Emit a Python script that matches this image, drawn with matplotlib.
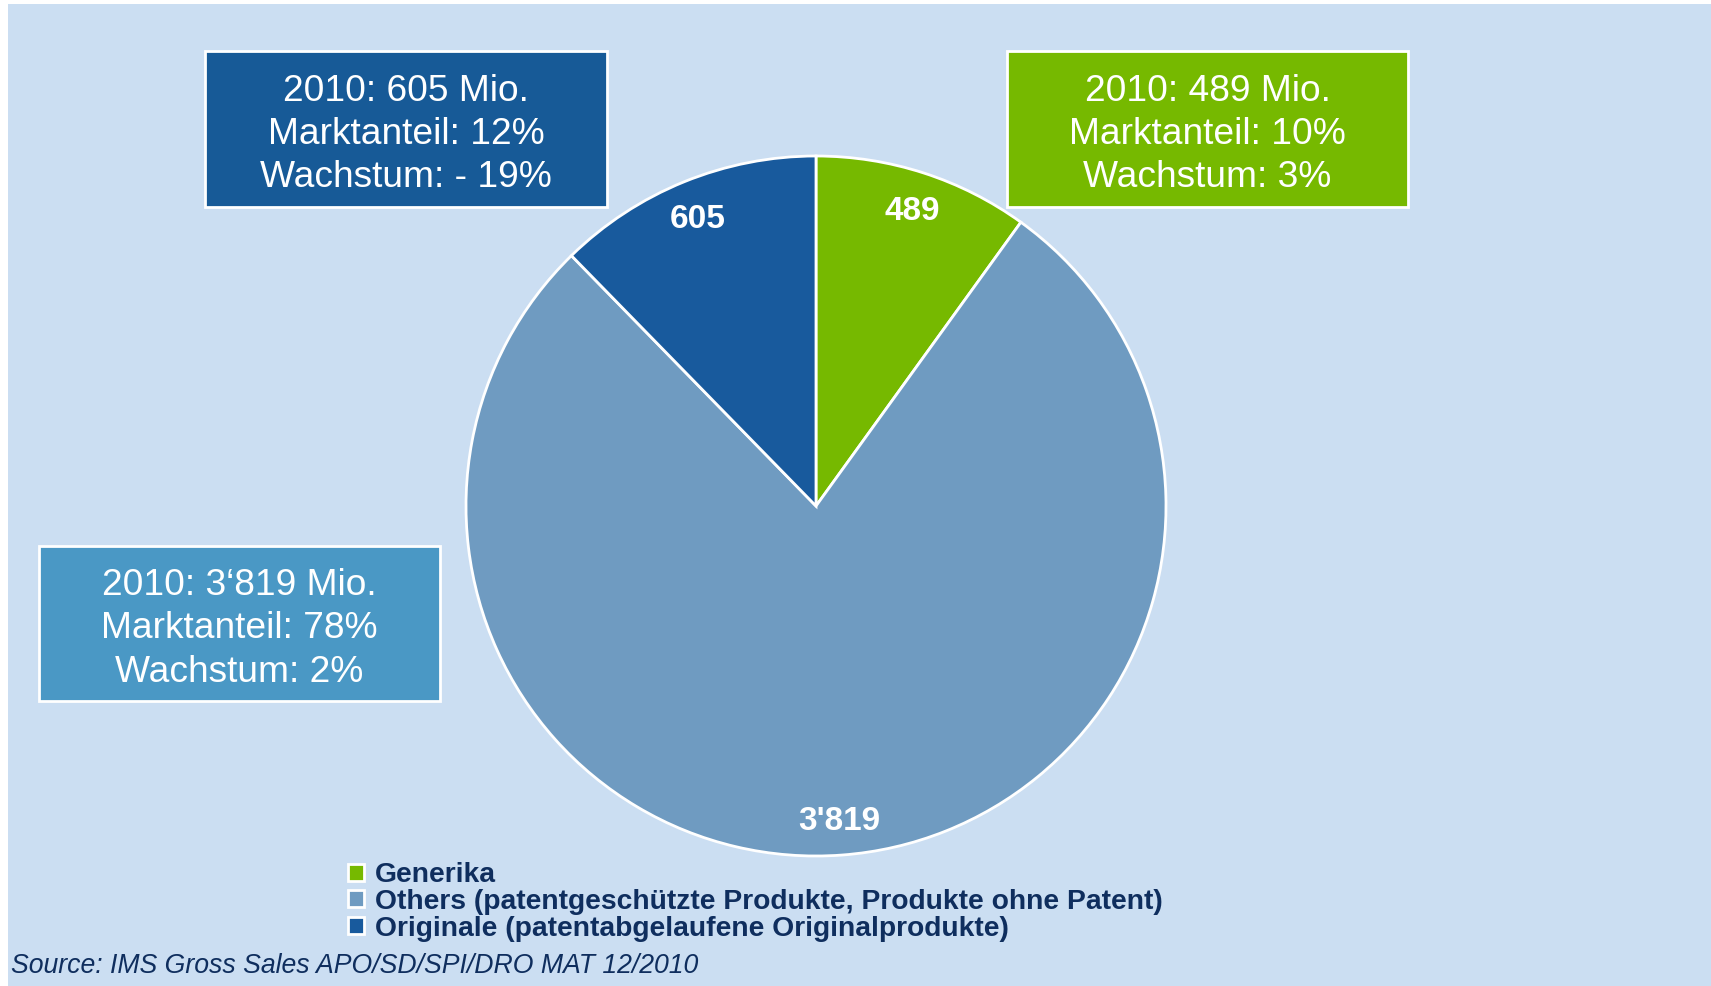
import matplotlib
matplotlib.use("Agg")
import matplotlib.pyplot as plt
from matplotlib.patches import Rectangle

# data
categories = ["Generika",
              "Others (patentgeschützte Produkte, Produkte ohne Patent)",
              "Originale (patentabgelaufene Originalprodukte)"]
sales = [489, 3819, 605]
value_labels = ["489", "3'819", "605"]
box_texts = ["2010: 489 Mio.\nMarktanteil: 10%\nWachstum: 3%",
             "2010: 3\u2018819 Mio.\nMarktanteil: 78%\nWachstum: 2%",
             "2010: 605 Mio.\nMarktanteil: 12%\nWachstum: - 19%"]
source = "Source: IMS Gross Sales APO/SD/SPI/DRO MAT 12/2010"

pie_colors = ["#76B900", "#6F9BC1", "#185A9D"]
box_colors = ["#76B900", "#4A98C5", "#175A97"]
bg = "#CBDEF2"
navy = "#0F2E5E"

W, H = 1711, 986
fig = plt.figure(figsize=(W / 100, H / 100), dpi=100)
fig.patch.set_facecolor("white")


def fx(px):
    return px / W


def fy(py):
    return 1 - py / H


# light blue panel
fig.add_artist(Rectangle((fx(8), 0), 1 - fx(8), fy(4), transform=fig.transFigure,
                         facecolor=bg, edgecolor="none", zorder=0))

# pie
cx, cy, r = 816, 506, 350
ax = fig.add_axes([fx(cx - r), fy(cy + r), 2 * r / W, 2 * r / H])
ax.set_facecolor("none")
it = iter(value_labels)
wedges, _, autotexts = ax.pie(sales, colors=pie_colors, startangle=90, counterclock=False,
                              autopct=lambda p: next(it), pctdistance=0.895,
                              wedgeprops=dict(edgecolor="white", linewidth=2),
                              textprops=dict(color="white", fontsize=24, fontweight="bold",
                                             family="Liberation Sans"))
for t in autotexts:
    t.set_va("center_baseline")
ax.set_xlim(-1.0, 1.0)
ax.set_ylim(-1.0, 1.0)
ax.set_aspect("equal")

# info boxes (x0, y0, x1, y1 in pixels)
boxes = [(1007, 51, 1408, 207), (39, 546, 440, 701), (205, 51, 607, 207)]
for (x0, y0, x1, y1), txt, col in zip(boxes, box_texts, box_colors):
    fig.add_artist(Rectangle((fx(x0), fy(y1)), fx(x1 - x0), (y1 - y0) / H,
                             transform=fig.transFigure, facecolor=col,
                             edgecolor="white", linewidth=2, zorder=3))
    fig.text(fx((x0 + x1) / 2), fy((y0 + y1) / 2 + 5.5), txt, ha="center", va="center",
             color="white", fontsize=26.7, family="Liberation Sans",
             linespacing=1.3, zorder=4)

# legend
leg = ax.legend(wedges, categories, loc="upper left",
                bbox_to_anchor=(fx(334), fy(848)), bbox_transform=fig.transFigure,
                frameon=False, handlelength=0.55, handleheight=0.55,
                handletextpad=0.4, labelspacing=0.03, borderpad=0,
                prop=dict(family="Liberation Sans", weight="bold", size=20.3))
for t in leg.get_texts():
    t.set_color(navy)

# source
fig.text(fx(11), fy(966), source, ha="left", va="center", color=navy,
         fontsize=19.2, style="italic", family="Liberation Sans")

fig.savefig("out.png", dpi=100, facecolor=fig.get_facecolor())
